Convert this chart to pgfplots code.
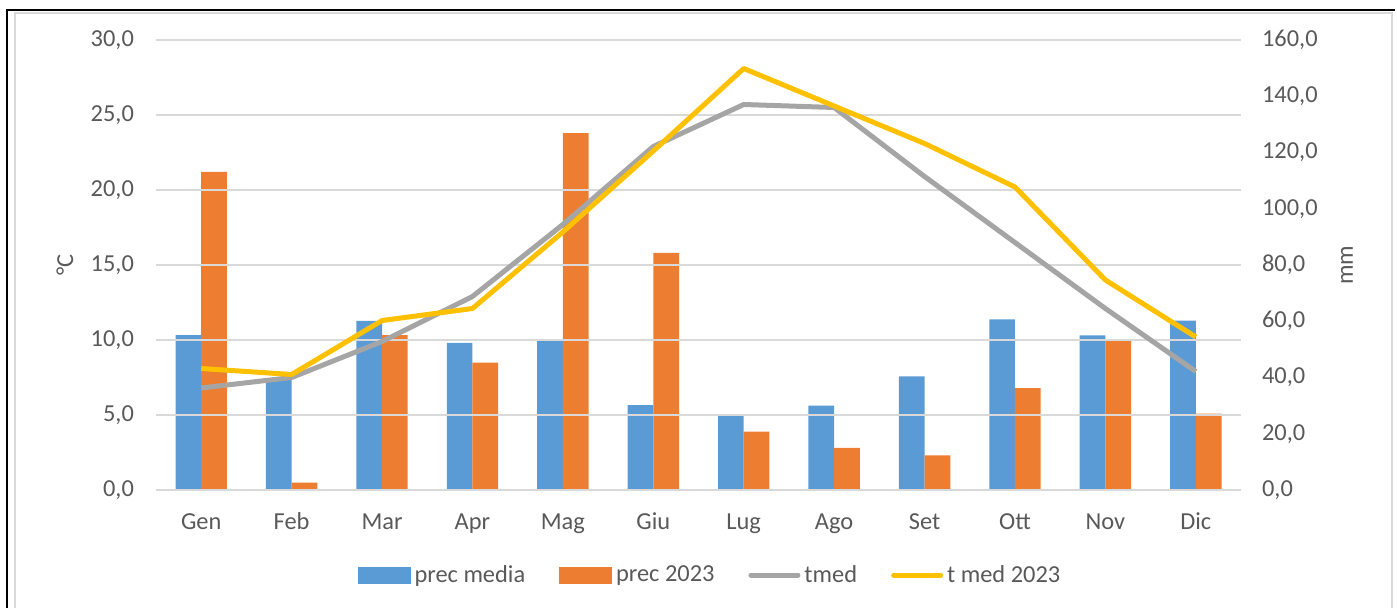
\documentclass[border=0pt]{standalone}
\usepackage{pgfplots}
\pgfplotsset{compat=1.18}
\usepackage{fontspec}
\setmainfont{Carlito}
\definecolor{cblue}{HTML}{5B9BD5}
\definecolor{corange}{HTML}{ED7D31}
\definecolor{cgray}{HTML}{A5A5A5}
\definecolor{cyellow}{HTML}{FFC000}
\definecolor{cgrid}{HTML}{D9D9D9}
\definecolor{ctext}{HTML}{595959}
\pgfplotsset{
  common/.style={
    at={(78pt,58.5pt)}, anchor=south west,
    scale only axis, width=542.5pt, height=225pt,
    xmin=-0.5, xmax=11.5, ymin=0,
    font=\fontsize{12.2}{14}\selectfont,
    every tick label/.append style={text=ctext},
    label style={text=ctext},
    /pgf/number format/.cd, fixed, fixed zerofill, precision=1, use comma, assume math mode=true,
    /pgfplots/.cd,
    axis line style={draw=none},
    major tick style={draw=none},
    major tick length=0pt,
  }
}
\begin{document}
\begin{tikzpicture}
\useasboundingbox (0,0) rectangle (698.5pt,303.5pt);
% frame
\draw[cgrid, line width=0.6pt] (7.5pt,-1pt) -- (7.5pt,297pt) -- (696pt,297pt) -- (696pt,-1pt);
\draw[black, line width=0.9pt] (3.5pt,-1pt) -- (3.5pt,298.5pt) -- (697.5pt,298.5pt);
% bars on right axis (mm)
\begin{axis}[common,
  ymax=160,
  axis y line*=right, axis x line*=bottom,
  xtick=\empty,
  ytick={0,20,...,160},
  yticklabel style={anchor=west, xshift=7pt},
  ylabel={mm},
  ylabel style={at={(axis description cs:1.0977,0.5)}, anchor=center, rotate=0},
  ybar=0pt, bar width=12.85pt,
]
\addplot[fill=cblue, draw=none] coordinates {
(0,55.1) (1,39.8) (2,60.1) (3,52.3) (4,53.3) (5,30.2) (6,26.7) (7,30.0) (8,40.4) (9,60.7) (10,55.0) (11,60.2)};
\addplot[fill=corange, draw=none] coordinates {
(0,113.1) (1,2.6) (2,55.1) (3,45.3) (4,126.9) (5,84.3) (6,20.8) (7,15.0) (8,12.3) (9,36.2) (10,53.5) (11,27.2)};
\end{axis}
% lines on left axis (degC)
\begin{axis}[common,
  ymax=30,
  axis y line*=left, axis x line*=bottom,
  ymajorgrids, grid style={cgrid, line width=0.8pt},
  ytick={0,5,...,30},
  yticklabel style={anchor=east, xshift=-7.5pt},
  xtick={0,...,11},
  xticklabels={Gen,Feb,Mar,Apr,Mag,Giu,Lug,Ago,Set,Ott,Nov,Dic},
  xticklabel style={anchor=base, yshift=-19.6pt},
  ylabel={°C},
  ylabel style={at={(axis description cs:-0.0839,0.5)}, anchor=center},
  legend columns=4,
  legend style={draw=none, fill=none, at={(axis description cs:0.5115,-0.189)}, anchor=center,
    font=\fontsize{12.2}{14}\selectfont, text=ctext,
    /tikz/every even column/.append style={column sep=15pt}},
  legend cell align=left,
]
\addlegendimage{area legend, legend image code/.code={\fill[cblue] (0pt,-4pt) rectangle (26pt,4pt);}}
\addlegendentry{prec media}
\addlegendimage{area legend, legend image code/.code={\fill[corange] (0pt,-4pt) rectangle (26pt,4pt);}}
\addlegendentry{prec 2023}
\addplot[cgray, line width=2.5pt, line join=round,
  legend image code/.code={\draw[cgray, line width=2.5pt, line cap=round] (1.25pt,0pt) -- (24.75pt,0pt);}] coordinates {
(0,6.8) (1,7.5) (2,9.9) (3,12.9) (4,17.7) (5,22.9) (6,25.7) (7,25.5) (8,20.9) (9,16.5) (10,12.1) (11,7.9)};
\addlegendentry{tmed}
\addplot[cyellow, line width=2.5pt, line join=round,
  legend image code/.code={\draw[cyellow, line width=2.5pt, line cap=round] (1.25pt,0pt) -- (24.75pt,0pt);}] coordinates {
(0,8.1) (1,7.7) (2,11.3) (3,12.1) (4,17.2) (5,22.6) (6,28.1) (7,25.6) (8,23.1) (9,20.2) (10,14.0) (11,10.2)};
\addlegendentry{t med 2023}
\end{axis}
\end{tikzpicture}
\end{document}
